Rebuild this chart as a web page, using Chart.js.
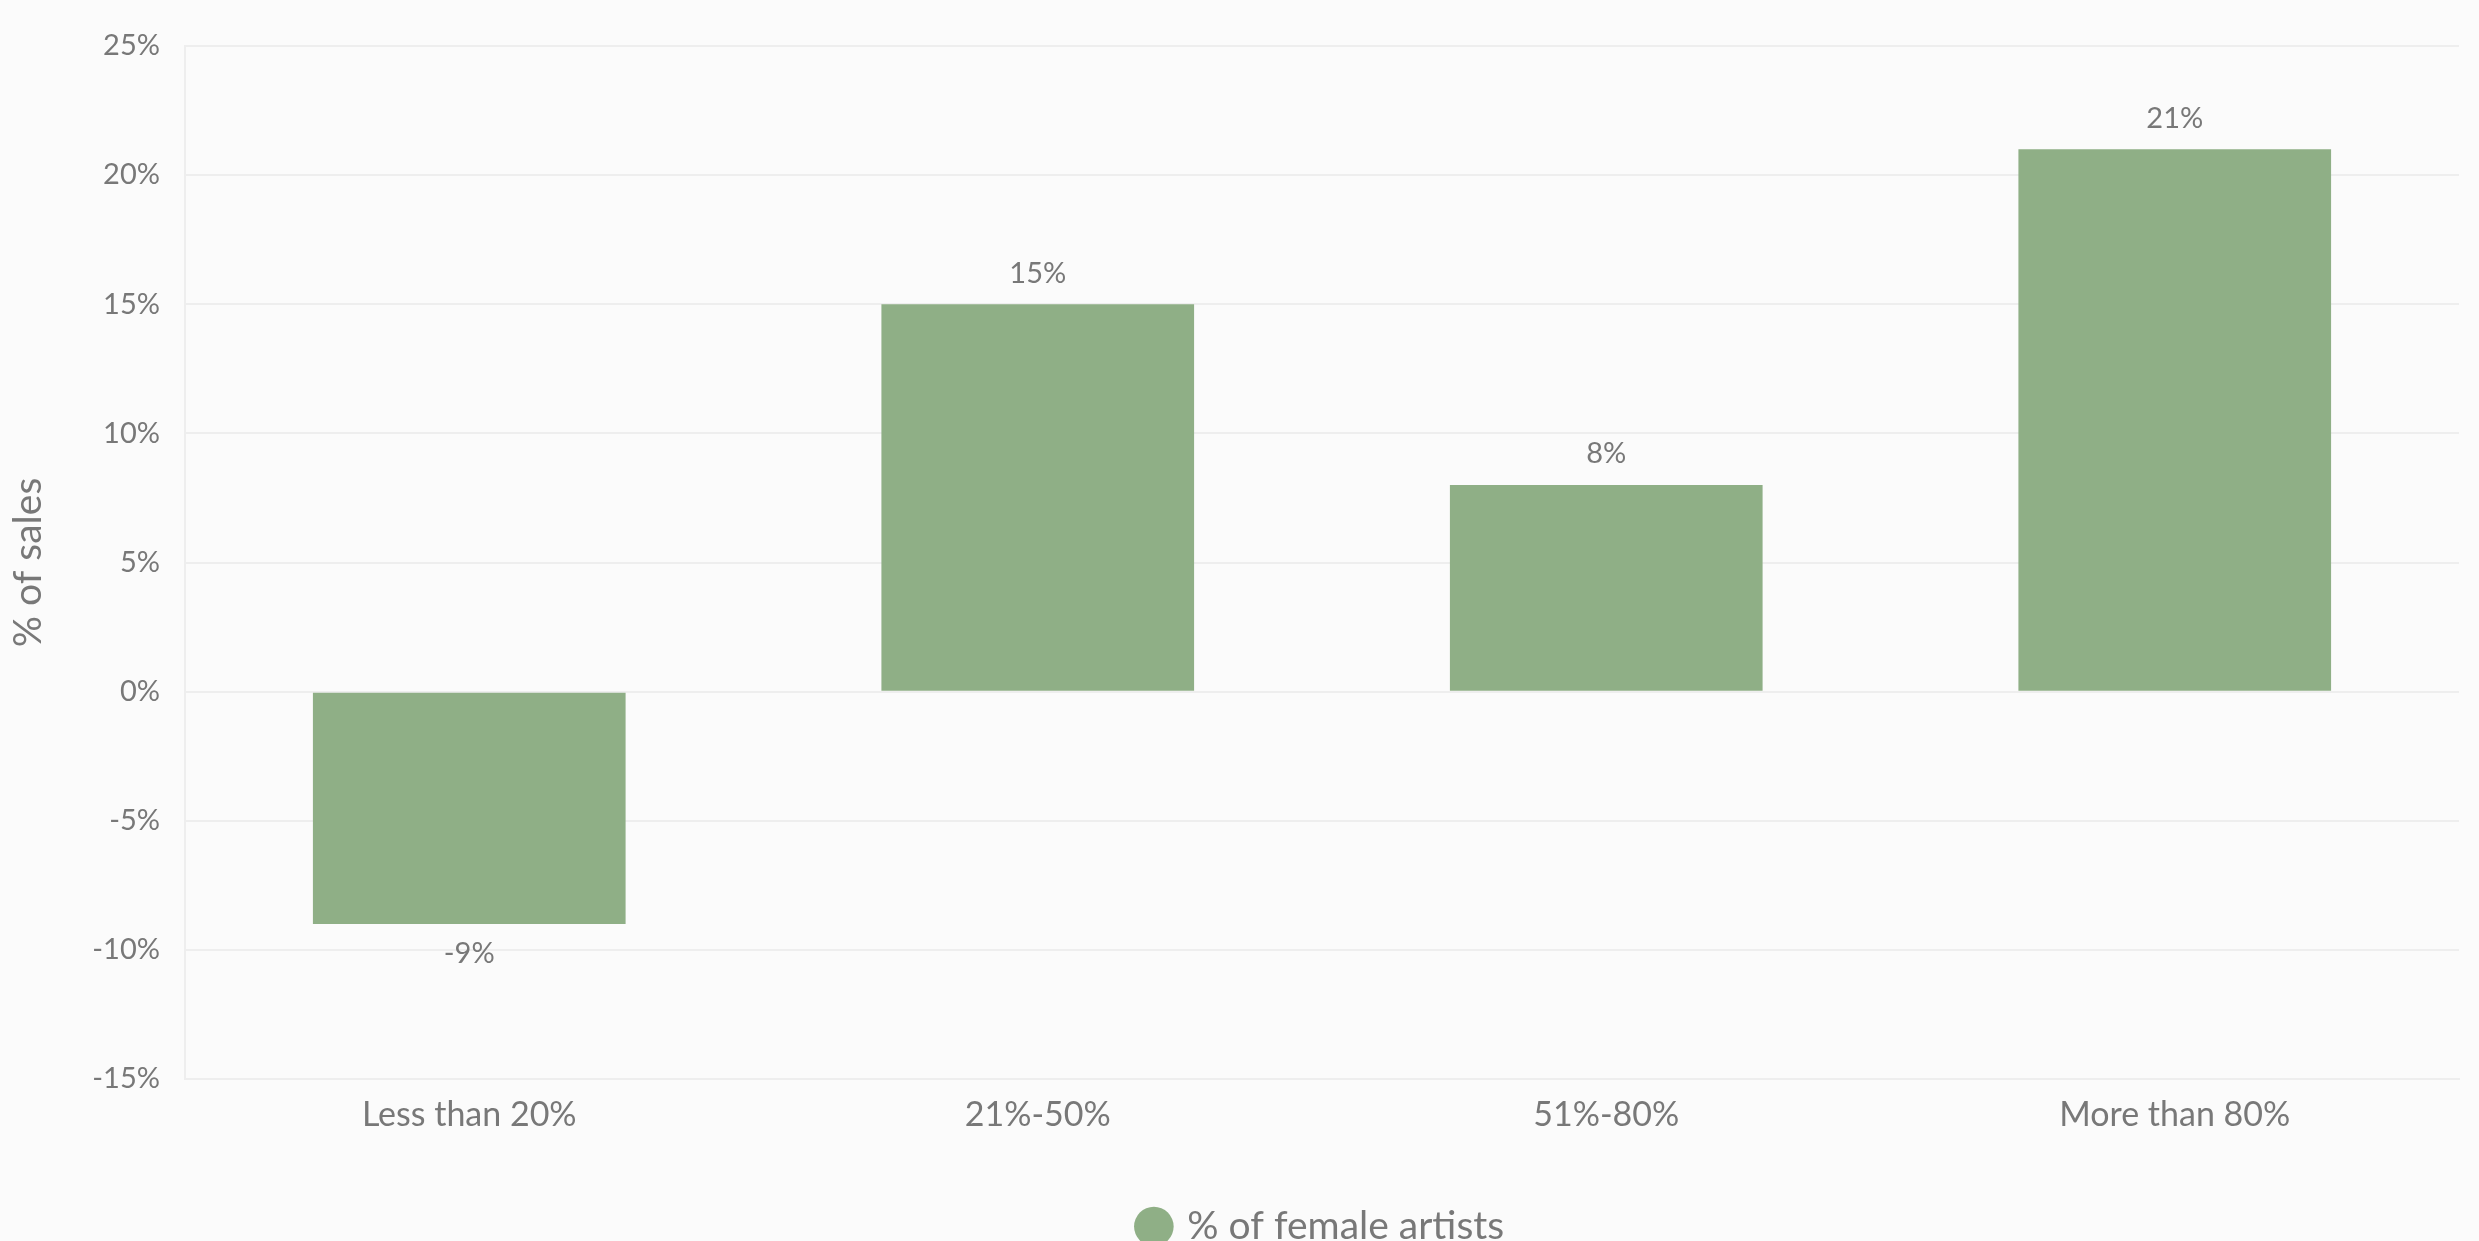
<!DOCTYPE html>
<html>
<head>
<meta charset="utf-8">
<script src="https://cdn.jsdelivr.net/npm/chart.js@4.4.1/dist/chart.umd.min.js"></script>
<style>
  html, body { margin: 0; padding: 0; background: #fbfbfb; overflow: hidden; }
  #wrap { width: 2479px; height: 1256px; }
</style>
</head>
<body>
<div id="wrap"><canvas id="salesChart" width="2479" height="1256"></canvas></div>
<script>
// chart data
const categories = ["Less than 20%", "21%-50%", "51%-80%", "More than 80%"];
const femaleShare = [-9, 15, 8, 21];
const yTicks = [-15, -10, -5, 0, 5, 10, 15, 20, 25];

const textColor = "#787878";
const fontFamily = "Lato, 'Open Sans', sans-serif";

// value labels above / below each bar
const barLabels = {
  id: "barLabels",
  afterDatasetsDraw(chart) {
    const ctx = chart.ctx;
    const meta = chart.getDatasetMeta(0);
    ctx.save();
    ctx.font = "29px " + fontFamily;
    ctx.fillStyle = textColor;
    ctx.textAlign = "center";
    ctx.textBaseline = "middle";
    meta.data.forEach((bar, i) => {
      const v = femaleShare[i];
      const y = v >= 0 ? bar.y - 31 : bar.y + 30;
      ctx.fillText(v + "%", bar.x, y);
    });
    ctx.restore();
  }
};

const ctx = document.getElementById("salesChart").getContext("2d");
new Chart(ctx, {
  type: "bar",
  data: {
    labels: categories,
    datasets: [{
      label: "% of female artists",
      data: femaleShare,
      backgroundColor: "#8faf86",
      borderWidth: 0,
      categoryPercentage: 1,
      barPercentage: 0.55
    }]
  },
  options: {
    responsive: false,
    animation: false,
    layout: { padding: { top: 46, right: 20, left: 0, bottom: 0 } },
    scales: {
      x: {
        grid: { display: false, drawTicks: false },
        border: { color: "#eeeeee", width: 2 },
        ticks: { color: textColor, font: { family: fontFamily, size: 34 }, padding: 16 },
        afterFit: (scale) => { scale.height = 88; }
      },
      y: {
        min: -15,
        max: 25,
        afterBuildTicks: (scale) => { scale.ticks = yTicks.map(v => ({ value: v })); },
        afterFit: (scale) => { scale.width = 185; },
        grid: { color: "#eeeeee", lineWidth: 2, drawTicks: false },
        border: { color: "#eeeeee", width: 2 },
        ticks: {
          color: textColor,
          font: { family: fontFamily, size: 29 },
          padding: 25,
          callback: (v) => v + "%"
        },
        title: {
          display: true,
          text: "% of sales",
          color: textColor,
          font: { family: fontFamily, size: 39 },
          padding: { top: 5, bottom: 0 }
        }
      }
    },
    plugins: {
      legend: {
        display: true,
        position: "bottom",
        fullSize: false,
        labels: {
          color: textColor,
          font: { family: fontFamily, size: 39 },
          usePointStyle: true,
          pointStyle: "circle",
          boxWidth: 28,
          boxHeight: 28,
          padding: 40
        }
      },
      tooltip: { enabled: false }
    }
  },
  plugins: [barLabels]
});
</script>
</body>
</html>
